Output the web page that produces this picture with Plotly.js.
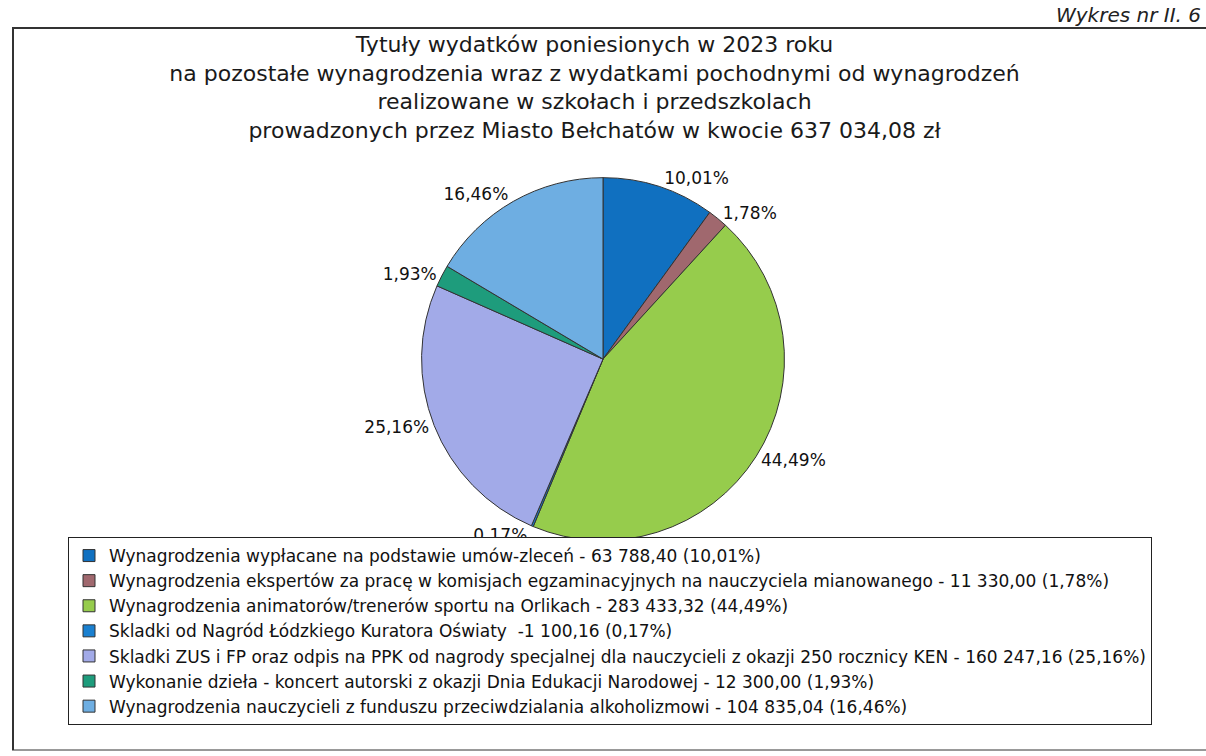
<!DOCTYPE html>
<html>
<head>
<meta charset="utf-8">
<script src="https://cdn.plot.ly/plotly-3.0.1.min.js"></script>
<style>html,body{margin:0;padding:0;background:#fff;}#chart{width:1206px;height:756px;}</style>
</head>
<body>
<div id="chart"></div>
<script>
const legendLabels = [
  "Wynagrodzenia wypłacane na podstawie umów-zleceń - 63 788,40 (10,01%)",
  "Wynagrodzenia ekspertów za pracę w komisjach egzaminacyjnych na nauczyciela mianowanego - 11 330,00 (1,78%)",
  "Wynagrodzenia animatorów/trenerów sportu na Orlikach - 283 433,32 (44,49%)",
  "Skladki od Nagród Łódzkiego Kuratora Oświaty  -1 100,16 (0,17%)",
  "Skladki ZUS i FP oraz odpis na PPK od nagrody specjalnej dla nauczycieli z okazji 250 rocznicy KEN - 160 247,16 (25,16%)",
  "Wykonanie dzieła - koncert autorski z okazji Dnia Edukacji Narodowej - 12 300,00 (1,93%)",
  "Wynagrodzenia nauczycieli z funduszu przeciwdzialania alkoholizmowi - 104 835,04 (16,46%)"
];
const amounts = [63788.40, 11330.00, 283433.32, 1100.16, 160247.16, 12300.00, 104835.04];
const pctLabels = ["10,01%", "1,78%", "44,49%", "0,17%", "25,16%", "1,93%", "16,46%"];
const sliceColors = ["#1070C0", "#A0686E", "#96CC4C", "#1A80D0", "#A2AAE8", "#1E9C7C", "#6EAEE2"];

const trace = {
  type: "pie",
  labels: legendLabels,
  values: amounts,
  text: pctLabels,
  textinfo: "text",
  texttemplate: "%{text}",
  textposition: "outside",
  sort: false,
  direction: "clockwise",
  rotation: 0,
  marker: {colors: sliceColors, line: {color: "#333333", width: 1}},
  outsidetextfont: {family: "DejaVu Sans", size: 17, color: "#111"},
  domain: {x: [0.25, 0.75], y: [0.285, 0.765]},
  hoverinfo: "label+percent"
};

const layout = {
  width: 1206, height: 756,
  margin: {l: 0, r: 0, t: 0, b: 0},
  paper_bgcolor: "#ffffff",
  font: {family: "DejaVu Sans", color: "#111"},
  title: {
    text: "Tytuły wydatków poniesionych w 2023 roku<br>na pozostałe wynagrodzenia wraz z wydatkami pochodnymi od wynagrodzeń<br>realizowane w szkołach i przedszkolach<br>prowadzonych przez Miasto Bełchatów w kwocie 637 034,08 zł",
    font: {family: "DejaVu Sans", size: 22, color: "#1a1a1a"},
    x: 0.493, xanchor: "center",
    y: 1 - 52/756, yref: "container", yanchor: "top"
  },
  showlegend: true,
  legend: {
    x: 68/1206, xanchor: "left",
    y: 1 - 537/756, yanchor: "top",
    bgcolor: "#ffffff", bordercolor: "#222", borderwidth: 1,
    font: {family: "DejaVu Sans", size: 17, color: "#111"},
    itemwidth: 30,
    traceorder: "normal"
  },
  shapes: [
    {type: "line", xref: "paper", yref: "paper", x0: 12/1206, x1: 1, y0: 1 - 28/756, y1: 1 - 28/756, line: {color: "#333", width: 2}},
    {type: "line", xref: "paper", yref: "paper", x0: 13/1206, x1: 13/1206, y0: 1 - 28/756, y1: 1 - 750/756, line: {color: "#333", width: 2}},
    {type: "line", xref: "paper", yref: "paper", x0: 12/1206, x1: 1, y0: 1 - 750/756, y1: 1 - 750/756, line: {color: "#333", width: 1}}
  ],
  annotations: [
    {text: "<i>Wykres nr II. 6</i>", xref: "paper", yref: "paper", x: 1203/1206, y: 1 - 1/756, xanchor: "right", yanchor: "top", showarrow: false, font: {family: "DejaVu Sans", size: 20, color: "#222"}}
  ]
};

Plotly.newPlot("chart", [trace], layout, {displayModeBar: false, staticPlot: true});
</script>
</body>
</html>
